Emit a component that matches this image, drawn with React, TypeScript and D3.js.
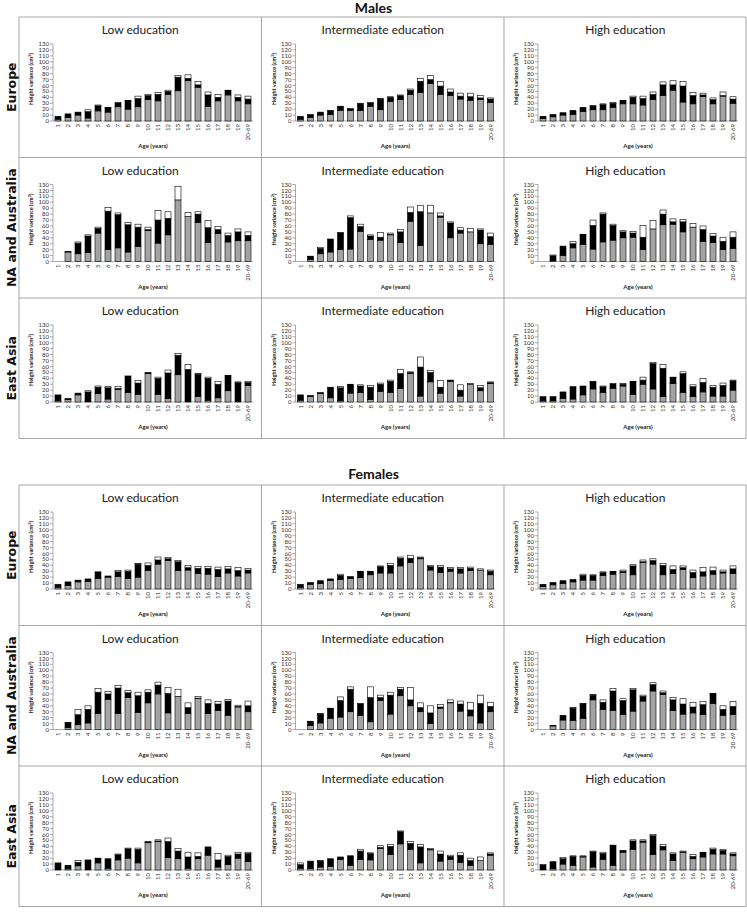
import React from 'react';
import * as d3 from 'd3';

// age classes on the x axis
const ages = ['1', '2', '3', '4', '5', '6', '7', '8', '9', '10', '11', '12', '13', '14', '15', '16', '17', '18', '19', '20-69'];
const yTicks = [0, 10, 20, 30, 40, 50, 60, 70, 80, 90, 100, 110, 120, 130];
const eduTitles = ['Low education', 'Intermediate education', 'High education'];
const regions = ['Europe', 'NA and Australia', 'East Asia'];
const sexes = ['Males', 'Females'];
const N = null;

// Males, Europe
const mEuLowGray = [3, 6, 10, 5, 17, 15, 24, 20, 24, 36, 34, 45, 51, 68, 57, 25, 34, 44, 34, 29];
const mEuLowBlack = [5, 6, 5, 11, 9, 7, 7, 14, 14, 7, 11, 5, 23, 4, 4, 19, 6, 7, 6, 8];
const mEuLowWhite = [0, 0, 0, 3, 1, 1, 0, 1, 4, 2, 3, 2, 3, 6, 6, 5, 5, 1, 4, 5];
const mEuMidGray = [3, 6, 10, 11, 18, 18, 18, 25, 19, 33, 36, 45, 48, 63, 45, 43, 37, 35, 36, 31];
const mEuMidBlack = [5, 5, 5, 7, 7, 3, 12, 6, 18, 7, 7, 7, 19, 7, 14, 6, 5, 6, 3, 6];
const mEuMidWhite = [0, 0, 0, 0, 0, 0, 0, 0, 1, 1, 1, 2, 5, 7, 8, 5, 5, 6, 4, 2];
const mEuHighGray = [4, 7, 10, 11, 16, 19, 19, 23, 29, 29, 27, 36, 43, 52, 32, 29, 41, 29, 42, 30];
const mEuHighBlack = [4, 4, 4, 7, 7, 7, 9, 7, 5, 11, 11, 9, 18, 9, 27, 14, 3, 7, 1, 7];
const mEuHighWhite = [0, 0, 0, 0, 0, 0, 1, 1, 1, 2, 4, 4, 5, 7, 8, 5, 3, 3, 6, 4];

// Males, NA and Australia
const mNaLowGray = [N, 16, 13, 15, 48, 20, 23, 16, 25, 52, 31, 45, 104, 76, 66, 32, 47, 33, 35, 35];
const mNaLowBlack = [N, 1, 18, 28, 8, 65, 56, 46, 33, 2, 39, 28, 0, 0, 14, 25, 7, 11, 15, 9];
const mNaLowWhite = [N, 0, 2, 2, 2, 6, 3, 4, 5, 4, 16, 11, 23, 7, 4, 12, 5, 4, 5, 6];
const mNaMidGray = [N, 3, 13, 16, 20, 21, 51, 37, 36, 45, 32, 68, 27, 82, 75, 40, 48, 50, 30, 29];
const mNaMidBlack = [N, 5, 9, 22, 29, 53, 8, 6, 5, 1, 18, 15, 57, 0, 2, 25, 5, 0, 23, 13];
const mNaMidWhite = [N, 1, 2, 0, 0, 3, 4, 2, 8, 2, 4, 9, 11, 13, 5, 2, 4, 6, 2, 6];
const mNaHighGray = [N, 1, 10, 23, 29, 21, 33, 36, 40, 41, 20, 55, 62, 63, 50, 58, 34, 32, 20, 22];
const mNaHighBlack = [N, 9, 16, 7, 16, 40, 47, 25, 10, 7, 21, 0, 18, 4, 17, 0, 20, 11, 14, 19];
const mNaHighWhite = [N, 1, 0, 4, 1, 9, 2, 2, 2, 3, 20, 14, 7, 5, 4, 6, 6, 4, 7, 9];

// Males, East Asia
const mEaLowGray = [2, 4, 12, 1, 14, 5, 21, 16, 13, 48, 13, 6, 46, 0, 9, 3, 7, 19, 0, 28];
const mEaLowBlack = [10, 2, 3, 16, 11, 19, 2, 28, 19, 2, 27, 43, 33, 55, 38, 37, 23, 25, 33, 5];
const mEaLowWhite = [0, 0, 0, 2, 2, 2, 3, 0, 4, 0, 2, 5, 3, 8, 1, 2, 5, 1, 1, 2];
const mEaMidGray = [3, 9, 14, 7, 2, 15, 16, 4, 18, 16, 23, 48, 10, 34, 15, 35, 10, 30, 19, 31];
const mEaMidBlack = [9, 2, 2, 18, 22, 14, 11, 21, 12, 19, 25, 2, 49, 16, 10, 2, 10, 0, 5, 2];
const mEaMidWhite = [0, 0, 0, 0, 2, 1, 2, 3, 2, 2, 7, 1, 17, 3, 11, 0, 9, 1, 4, 1];
const mEaHighGray = [2, 2, 6, 5, 12, 22, 16, 23, 27, 13, 30, 22, 9, 31, 16, 9, 17, 10, 10, 20];
const mEaHighBlack = [7, 7, 11, 21, 15, 13, 10, 8, 3, 21, 7, 43, 48, 10, 32, 17, 16, 15, 18, 16];
const mEaHighWhite = [0, 0, 0, 0, 0, 0, 1, 0, 1, 1, 5, 2, 6, 1, 3, 3, 7, 3, 4, 1];

// Females, Europe
const fEuLowGray = [3, 6, 12, 13, 18, 20, 21, 18, 20, 31, 42, 48, 31, 32, 26, 25, 21, 27, 22, 27];
const fEuLowBlack = [5, 6, 3, 4, 11, 2, 8, 12, 22, 9, 7, 3, 15, 4, 9, 10, 12, 7, 9, 5];
const fEuLowWhite = [0, 0, 0, 0, 0, 0, 2, 2, 1, 4, 5, 2, 2, 4, 3, 3, 4, 4, 5, 3];
const fEuMidGray = [3, 8, 9, 14, 16, 18, 19, 24, 27, 27, 39, 45, 51, 32, 28, 30, 27, 31, 32, 24];
const fEuMidBlack = [5, 3, 5, 3, 7, 3, 10, 5, 11, 13, 13, 7, 2, 6, 9, 4, 7, 4, 0, 6];
const fEuMidWhite = [0, 0, 0, 0, 2, 0, 1, 1, 1, 3, 2, 5, 1, 2, 3, 2, 2, 2, 2, 2];
const fEuHighGray = [4, 7, 9, 12, 15, 15, 23, 25, 28, 24, 45, 42, 24, 26, 33, 19, 22, 25, 27, 26];
const fEuHighBlack = [4, 4, 5, 4, 8, 8, 5, 4, 2, 15, 1, 6, 16, 7, 3, 9, 7, 6, 2, 8];
const fEuHighWhite = [0, 0, 0, 0, 2, 1, 1, 1, 2, 2, 3, 3, 3, 6, 3, 4, 7, 6, 3, 5];

// Females, NA and Australia
const fNaLowGray = [N, 3, 8, 11, 27, 51, 27, 54, 29, 45, 60, 28, 56, 27, 52, 27, 32, 24, 38, 30];
const fNaLowBlack = [N, 8, 17, 23, 36, 9, 43, 8, 28, 18, 15, 33, 0, 10, 1, 17, 11, 24, 1, 10];
const fNaLowWhite = [N, 1, 9, 6, 6, 4, 4, 4, 6, 4, 5, 10, 12, 8, 3, 6, 4, 3, 2, 8];
const fNaMidGray = [N, 7, 11, 19, 21, 30, 24, 13, 49, 26, 57, 40, 30, 10, 36, 45, 31, 23, 11, 30];
const fNaMidBlack = [N, 6, 15, 16, 28, 38, 20, 41, 5, 32, 11, 10, 7, 18, 2, 1, 12, 10, 33, 9];
const fNaMidWhite = [N, 1, 1, 1, 6, 4, 0, 18, 4, 5, 3, 21, 8, 12, 4, 4, 5, 13, 14, 7];
const fNaHighGray = [N, 6, 16, 15, 19, 50, 34, 32, 25, 31, 48, 65, 59, 32, 26, 28, 25, 44, 24, 25];
const fNaHighBlack = [N, 1, 8, 21, 24, 8, 12, 33, 24, 36, 8, 11, 3, 18, 17, 10, 17, 16, 10, 14];
const fNaHighWhite = [N, 0, 0, 1, 1, 1, 4, 4, 3, 2, 2, 3, 3, 4, 9, 8, 5, 1, 6, 8];

// Females, East Asia
const fEaLowGray = [0, 2, 7, 0, 12, 3, 17, 20, 12, 46, 48, 21, 19, 3, 19, 25, 5, 9, 20, 14];
const fEaLowBlack = [12, 6, 6, 17, 7, 16, 9, 16, 23, 2, 1, 27, 13, 19, 4, 14, 12, 14, 7, 14];
const fEaLowWhite = [0, 0, 3, 0, 1, 0, 1, 1, 2, 0, 2, 6, 4, 8, 6, 0, 11, 2, 3, 2];
const fEaMidGray = [3, 3, 5, 6, 18, 8, 18, 17, 36, 26, 44, 35, 12, 34, 15, 18, 13, 8, 16, 25];
const fEaMidBlack = [6, 12, 10, 13, 4, 16, 14, 11, 2, 14, 21, 10, 27, 1, 12, 5, 12, 8, 0, 2];
const fEaMidWhite = [3, 0, 1, 0, 0, 0, 3, 1, 3, 3, 1, 3, 4, 1, 5, 2, 4, 4, 6, 2];
const fEaHighGray = [0, 2, 10, 8, 22, 5, 18, 8, 30, 35, 47, 26, 34, 16, 30, 19, 22, 27, 27, 24];
const fEaHighBlack = [9, 12, 9, 15, 1, 26, 10, 33, 2, 14, 2, 32, 6, 11, 1, 4, 7, 8, 6, 3];
const fEaHighWhite = [0, 0, 2, 1, 1, 1, 2, 1, 1, 2, 2, 2, 3, 2, 1, 3, 1, 2, 2, 2];

const series = [
  [[mEuLowGray, mEuLowBlack, mEuLowWhite], [mEuMidGray, mEuMidBlack, mEuMidWhite], [mEuHighGray, mEuHighBlack, mEuHighWhite]],
  [[mNaLowGray, mNaLowBlack, mNaLowWhite], [mNaMidGray, mNaMidBlack, mNaMidWhite], [mNaHighGray, mNaHighBlack, mNaHighWhite]],
  [[mEaLowGray, mEaLowBlack, mEaLowWhite], [mEaMidGray, mEaMidBlack, mEaMidWhite], [mEaHighGray, mEaHighBlack, mEaHighWhite]],
  [[fEuLowGray, fEuLowBlack, fEuLowWhite], [fEuMidGray, fEuMidBlack, fEuMidWhite], [fEuHighGray, fEuHighBlack, fEuHighWhite]],
  [[fNaLowGray, fNaLowBlack, fNaLowWhite], [fNaMidGray, fNaMidBlack, fNaMidWhite], [fNaHighGray, fNaHighBlack, fNaHighWhite]],
  [[fEaLowGray, fEaLowBlack, fEaLowWhite], [fEaMidGray, fEaMidBlack, fEaMidWhite], [fEaHighGray, fEaHighBlack, fEaHighWhite]],
];

const W = 747, H = 918;
const colX = [19, 261.5, 504, 746];
const rowH = 140.5;
const gridTop = [17, 485];
const fills = ['#a3a3a3', '#000000', '#ffffff'];
const border = '#a6a6a6';
const txtFont = 'Lato, "Open Sans", sans-serif';

function Panel({ left, top, title, data }) {
  const x = d3.scaleBand().domain(ages).range([left + 34, left + 234]).paddingInner(0.4).paddingOuter(0.2);
  const y = d3.scaleLinear().domain([0, 130]).range([top + 104, top + 27]);
  const rows = ages.map((a, i) => ({ age: a, gray: data[0][i] ?? 0, black: data[1][i] ?? 0, white: data[2][i] ?? 0, missing: data[0][i] == null }));
  const stacked = d3.stack().keys(['gray', 'black', 'white'])(rows);
  const ax = left + 34;
  const y0 = y(0);
  return (
    <g>
      <text x={(left + left + 242.5) / 2} y={top + 17} textAnchor="middle" fontSize={12} fontFamily={txtFont} fill="#222">{title}</text>
      {/* y axis */}
      <line x1={ax} x2={ax} y1={y(130)} y2={y0} stroke="#888" strokeWidth={0.7} />
      {yTicks.map(t => (
        <g key={t}>
          <line x1={ax - 3} x2={ax} y1={y(t)} y2={y(t)} stroke="#888" strokeWidth={0.7} />
          <text x={ax - 4} y={y(t)} dy="0.35em" textAnchor="end" fontSize={6} fontFamily={txtFont} fill="#333">{t}</text>
        </g>
      ))}
      <text transform={`translate(${left + 14},${top + 62}) rotate(-90)`} textAnchor="middle" fontSize={5.5} fontWeight="bold" fontFamily={txtFont} fill="#222">
        Height variance (cm<tspan dy={-2} fontSize={4}>2</tspan><tspan dy={2}>)</tspan>
      </text>
      {/* x axis */}
      <line x1={ax} x2={left + 234} y1={y0} y2={y0} stroke="#888" strokeWidth={0.7} />
      {ages.map(a => (
        <text key={a} transform={`translate(${x(a) + x.bandwidth() / 2},${y0 + 3}) rotate(-90)`} textAnchor="end" dy="0.35em" fontSize={6} fontFamily={txtFont} fill="#333">{a}</text>
      ))}
      <text x={left + 134} y={top + 131} textAnchor="middle" fontSize={6} fontWeight="bold" fontFamily={txtFont} fill="#222">Age (years)</text>
      {/* stacked bars */}
      {stacked.map((layer, k) => (
        <g key={k}>
          {layer.map((d, i) => (rows[i].missing || d[1] - d[0] <= 0) ? null : (
            <rect key={i} x={x(ages[i])} width={x.bandwidth()} y={y(d[1])} height={y(d[0]) - y(d[1])}
              fill={fills[k]} stroke="#000" strokeWidth={0.6} />
          ))}
        </g>
      ))}
    </g>
  );
}

export default function App() {
  return (
    <svg width={W} height={H} style={{ position: 'absolute', left: 0, top: 0, background: '#fff' }}>
      <rect width={W} height={H} fill="#fff" />
      {sexes.map((sex, s) => (
        <g key={sex}>
          <text x={W / 2} y={s === 0 ? 13 : 479} textAnchor="middle" fontSize={14} fontWeight="bold" fontFamily={txtFont} fill="#111">{sex}</text>
          {regions.map((reg, r) => {
            const top = gridTop[s] + r * rowH;
            return (
              <g key={reg}>
                <text transform={`translate(16,${top + rowH / 2}) rotate(-90)`} textAnchor="middle" fontSize={12.5} fontWeight="bold" fontFamily='"DejaVu Sans", sans-serif' fill="#111">{reg}</text>
                {eduTitles.map((t, c) => (
                  <Panel key={t} left={colX[c]} top={top} title={t} data={series[s * 3 + r][c]} />
                ))}
              </g>
            );
          })}
          {/* panel borders */}
          {[0, 1, 2, 3].map(i => (
            <line key={'h' + i} x1={colX[0]} x2={colX[3]} y1={gridTop[s] + i * rowH} y2={gridTop[s] + i * rowH} stroke={border} strokeWidth={1} />
          ))}
          {colX.map((cx, i) => (
            <line key={'v' + i} x1={cx} x2={cx} y1={gridTop[s]} y2={gridTop[s] + 3 * rowH} stroke={border} strokeWidth={1} />
          ))}
        </g>
      ))}
    </svg>
  );
}
